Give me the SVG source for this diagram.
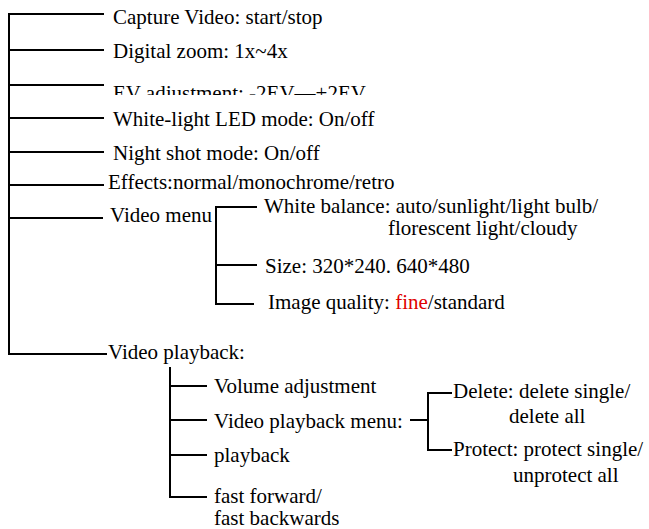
<svg xmlns="http://www.w3.org/2000/svg" width="649" height="529" viewBox="0 0 649 529">
<style>
text{font-family:"Liberation Serif","Times New Roman",serif;font-size:21px;fill:#000}
.c line{stroke:#000;stroke-width:2;fill:none}
.r{fill:#e00000}
</style>
<defs><clipPath id="evclip"><rect x="100" y="75" width="320" height="20"/></clipPath></defs>
<rect width="649" height="529" fill="#fff"/>
<g class="c" id="connectors">
<line x1="9" y1="13" x2="9" y2="355"/>
<line x1="8" y1="14" x2="104" y2="14"/>
<line x1="9" y1="50" x2="104" y2="50"/>
<line x1="9" y1="85" x2="104" y2="85"/>
<line x1="9" y1="118" x2="104" y2="118"/>
<line x1="9" y1="152" x2="104" y2="152"/>
<line x1="9" y1="185" x2="104" y2="185"/>
<line x1="9" y1="218" x2="103" y2="218"/>
<line x1="216" y1="206" x2="216" y2="305"/>
<line x1="215" y1="207" x2="257" y2="207"/>
<line x1="216" y1="265" x2="257" y2="265"/>
<line x1="215" y1="304" x2="254" y2="304"/>
<line x1="9" y1="354" x2="107" y2="354"/>
<line x1="170" y1="367" x2="170" y2="498"/>
<line x1="170" y1="386" x2="207" y2="386"/>
<line x1="170" y1="420" x2="207" y2="420"/>
<line x1="170" y1="455" x2="207" y2="455"/>
<line x1="169" y1="497" x2="207" y2="497"/>
<line x1="410" y1="420" x2="428" y2="420"/>
<line x1="428" y1="392" x2="428" y2="451"/>
<line x1="427" y1="393" x2="452" y2="393"/>
<line x1="427" y1="450" x2="452" y2="450"/>
</g>
<g id="capture"><text x="113" y="24">Capture Video: start/stop</text></g>
<g id="zoom"><text x="113" y="58">Digital zoom: 1x~4x</text></g>
<g id="ev" clip-path="url(#evclip)"><text x="113" y="100">EV adjustment: -2EV—+2EV</text></g>
<g id="led"><text x="113" y="126">White-light LED mode: On/off</text></g>
<g id="night"><text x="113" y="160">Night shot mode: On/off</text></g>
<g id="effects"><text x="108" y="189">Effects:normal/monochrome/retro</text></g>
<g id="videomenu"><text x="110" y="222">Video menu</text></g>
<g id="wb"><text x="264" y="213">White balance: auto/sunlight/light bulb/</text><text x="388" y="235">florescent light/cloudy</text></g>
<g id="size"><text x="265" y="273">Size: 320*240. 640*480</text></g>
<g id="quality"><text x="268" y="309">Image quality: <tspan class="r">fine</tspan>/standard</text></g>
<g id="playback"><text x="108" y="359">Video playback:</text></g>
<g id="volume"><text x="214" y="393">Volume adjustment</text></g>
<g id="pbmenu"><text x="214" y="428">Video playback menu:</text></g>
<g id="delete"><text x="453" y="398">Delete: delete single/</text><text x="509" y="423">delete all</text></g>
<g id="protect"><text x="453" y="456">Protect: protect single/</text><text x="513" y="482">unprotect all</text></g>
<g id="play"><text x="214" y="462">playback</text></g>
<g id="ff"><text x="214" y="503">fast forward/</text><text x="214" y="525">fast backwards</text></g>
</svg>
